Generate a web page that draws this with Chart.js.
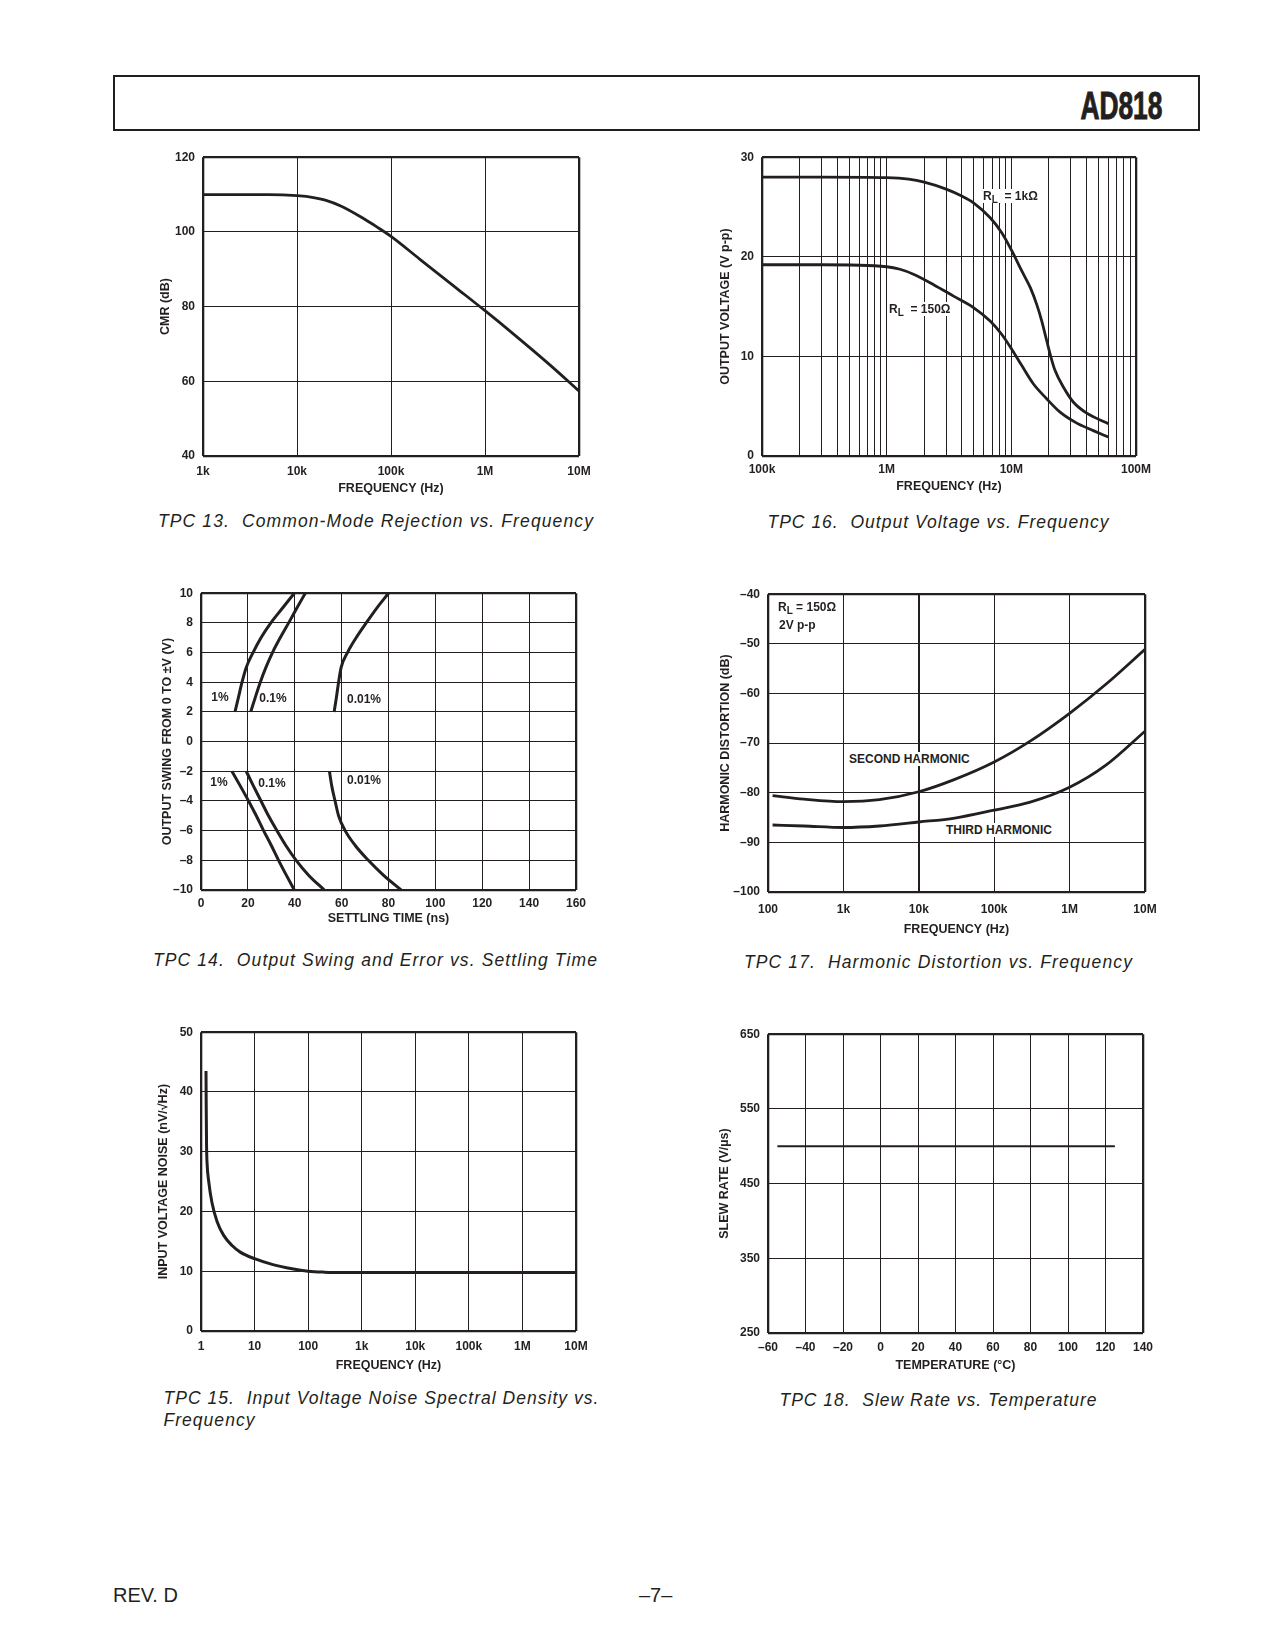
<!DOCTYPE html>
<html>
<head>
<meta charset="utf-8">
<title>AD818 typical performance characteristics</title>
<script src="https://cdn.jsdelivr.net/npm/chart.js@4.4.1/dist/chart.umd.min.js"></script>
<style>
  body { margin: 0; background: #fff; }
  #page { position: relative; width: 1275px; height: 1650px; overflow: hidden; color: #231f20;
          font-family: 'Liberation Sans', Arial, sans-serif; }
  canvas { position: absolute; }
  #head { position: absolute; left: 113px; top: 75px; width: 1087px; height: 56px;
          border: 2px solid #231f20; box-sizing: border-box; }
  #part { position: absolute; right: 113px; top: 84px; line-height: 40px; white-space: nowrap;
          font: bold 39px 'Liberation Sans Narrow', 'Liberation Sans', sans-serif; transform-origin: right center;
          -webkit-text-stroke: 1px #231f20; }
  .cap { position: absolute; white-space: pre; font-style: italic; font-size: 17.5px; line-height: 20px; }
  .note { position: absolute; white-space: nowrap; font-weight: bold; font-size: 12px; line-height: 14px;
          transform: translateY(-50%); }
  .note.bg { background: #fff; padding: 0 2px; margin-left: -2px; }
  .note.mid { transform: translate(-50%, -50%); }
  .note sub { font-size: 10px; line-height: 0; vertical-align: -3px; }
  .foot { position: absolute; font-size: 20px; line-height: 22px; white-space: pre; }
</style>
</head>
<body>
<div id="page">
  <div id="head"></div>
  <div id="part">AD818</div>

  <canvas id="c13"></canvas>
  <canvas id="c16"></canvas>
  <canvas id="c14"></canvas>
  <canvas id="c17"></canvas>
  <canvas id="c15"></canvas>
  <canvas id="c18"></canvas>

  <div class="note bg" style="left:983px; top:196px">R<sub>L</sub>&nbsp; = 1kΩ</div>
  <div class="note bg" style="left:889px; top:309px">R<sub>L</sub>&nbsp; = 150Ω</div>

  <div class="note mid" style="left:220px; top:697px">1%</div>
  <div class="note mid" style="left:273px; top:698px">0.1%</div>
  <div class="note mid" style="left:364px; top:699px">0.01%</div>
  <div class="note mid" style="left:219px; top:782px">1%</div>
  <div class="note mid" style="left:272px; top:783px">0.1%</div>
  <div class="note mid" style="left:364px; top:780px">0.01%</div>

  <div class="note" style="left:778px; top:607px">R<sub>L</sub> = 150Ω</div>
  <div class="note" style="left:779px; top:625px">2V p-p</div>
  <div class="note bg" style="left:849px; top:759px">SECOND HARMONIC</div>
  <div class="note bg" style="left:946px; top:830px">THIRD HARMONIC</div>

  <div class="cap" id="cap13">TPC 13.  Common-Mode Rejection vs. Frequency</div>
  <div class="cap" id="cap16">TPC 16.  Output Voltage vs. Frequency</div>
  <div class="cap" id="cap14">TPC 14.  Output Swing and Error vs. Settling Time</div>
  <div class="cap" id="cap17">TPC 17.  Harmonic Distortion vs. Frequency</div>
  <div class="cap" id="cap15a">TPC 15.  Input Voltage Noise Spectral Density vs.</div>
  <div class="cap" id="cap15b">Frequency</div>
  <div class="cap" id="cap18">TPC 18.  Slew Rate vs. Temperature</div>

  <div class="foot" style="left:113px; top:1584px">REV. D</div>
  <div class="foot" style="left:639px; top:1584px">–7–</div>
</div>

<script>
const ink = '#231f20';

// TPC 13 - common-mode rejection
const cmrFreq = [1e3, 2e3, 5e3, 1e4, 1.5e4, 2e4, 3e4, 5e4, 7e4, 1e5, 2e5, 5e5, 1e6, 2e6, 5e6, 1e7];
const cmrDb = [110, 110, 110, 109.7, 109.2, 108.5, 106.8, 103.7, 101.4, 98.8, 92.8, 84.9, 78.9, 72.7, 64.2, 57.4];
const cmrXTicks = [1e3, 1e4, 1e5, 1e6, 1e7];
const cmrXLabels = ['1k', '10k', '100k', '1M', '10M'];
const cmrYTicks = [40, 60, 80, 100, 120];
const cmrYLabels = ['40', '60', '80', '100', '120'];

// TPC 16 - output voltage
const ovFreq1k = [1e5, 3e5, 1e6, 1.5e6, 2e6, 3e6, 4e6, 5e6, 6.8e6, 8.4e6, 1.01e7, 1.21e7, 1.42e7, 1.6e7,
                  1.75e7, 1.92e7, 2.05e7, 2.24e7, 2.62e7, 3.15e7, 4.03e7, 6e7];
const ov1k = [28, 28, 27.95, 27.8, 27.5, 26.8, 26.1, 25.4, 23.9, 22.4, 20.6, 18.6, 16.9, 15.2,
              13.6, 11.6, 10.2, 8.6, 6.9, 5.4, 4.3, 3.25];
const ovFreq150 = [1e5, 3e5, 1e6, 1.28e6, 1.64e6, 2.38e6, 3.44e6, 4.97e6, 6.76e6, 8.39e6, 1.01e7, 1.21e7,
                   1.5e7, 1.92e7, 2.46e7, 3.35e7, 4.55e7, 6e7];
const ov150 = [19.2, 19.2, 19.0, 18.75, 18.25, 17.2, 16.05, 14.9, 13.55, 12.2, 10.7, 9.1,
               7.25, 5.75, 4.4, 3.3, 2.55, 1.9];
const ovXTicks = [1e5, 2e5, 3e5, 4e5, 5e5, 6e5, 7e5, 8e5, 9e5,
                  1e6, 2e6, 3e6, 4e6, 5e6, 6e6, 7e6, 8e6, 9e6,
                  1e7, 2e7, 3e7, 4e7, 5e7, 6e7, 7e7, 8e7, 9e7, 1e8];
const ovXDecades = [1e5, 1e6, 1e7, 1e8];
const ovXLabels = ['100k', '1M', '10M', '100M'];
const ovYTicks = [0, 10, 20, 30];
const ovYLabels = ['0', '10', '20', '30'];

// TPC 14 - settling time at each output swing level
const swingUpV = [2, 3, 4, 5, 6, 7, 8, 9, 10];
const settleUp1 = [14.5, 16, 17.5, 19.3, 22.2, 25.6, 29.8, 34.8, 39.8];
const settleUp01 = [21.2, 23.2, 25.3, 27.7, 30.5, 33.8, 37.4, 40.9, 44.5];
const settleUp001 = [56.8, 57.8, 58.7, 59.8, 62.5, 66.2, 70.5, 75, 80];
const swingDnV = [-2, -3, -4, -5, -6, -7, -8, -9, -10];
const settleDn1 = [13.2, 16.8, 20.3, 23.6, 26.7, 30, 33.1, 36.4, 39.8];
const settleDn01 = [19.3, 22.4, 25.6, 28.8, 32.4, 36.2, 40.6, 45.9, 52.6];
const settleDn001 = [54.8, 55.8, 57.2, 58.7, 61.5, 65.8, 71.4, 77.8, 85.4];
const stXTicks = [0, 20, 40, 60, 80, 100, 120, 140, 160];
const stXLabels = ['0', '20', '40', '60', '80', '100', '120', '140', '160'];
const stYTicks = [-10, -8, -6, -4, -2, 0, 2, 4, 6, 8, 10];
const stYLabels = ['–10', '–8', '–6', '–4', '–2', '0', '2', '4', '6', '8', '10'];

// TPC 17 - harmonic distortion
const hdFreq = [115, 300, 1e3, 3e3, 1e4, 3e4, 1e5, 3e5, 1e6, 3e6, 1e7];
const hdSecond = [-80.6, -81.3, -81.8, -81.4, -79.8, -77.3, -73.8, -69.6, -64.0, -58.2, -51.1];
const hdThird = [-86.5, -86.7, -87.0, -86.7, -85.9, -85.1, -83.5, -81.9, -78.9, -74.5, -67.6];
const hdXTicks = [1e2, 1e3, 1e4, 1e5, 1e6, 1e7];
const hdXLabels = ['100', '1k', '10k', '100k', '1M', '10M'];
const hdYTicks = [-100, -90, -80, -70, -60, -50, -40];
const hdYLabels = ['–100', '–90', '–80', '–70', '–60', '–50', '–40'];

// TPC 15 - input voltage noise
const noiseFreq = [1.24, 1.25, 1.27, 1.3, 1.39, 1.6, 2, 2.65, 3.8, 5.4, 10, 22, 50, 100, 200, 500, 1e7];
const noiseNv = [43.5, 38, 31, 28, 25.1, 21.5, 18.3, 16, 14.3, 13.2, 12.1, 11.1, 10.4, 10.0, 9.85, 9.8, 9.8];
const nzXTicks = [1, 10, 1e2, 1e3, 1e4, 1e5, 1e6, 1e7];
const nzXLabels = ['1', '10', '100', '1k', '10k', '100k', '1M', '10M'];
const nzYTicks = [0, 10, 20, 30, 40, 50];
const nzYLabels = ['0', '10', '20', '30', '40', '50'];

// TPC 18 - slew rate
const slewTemp = [-55, 0, 25, 85, 125];
const slewRate = [500, 500, 500, 500, 500];
const srXTicks = [-60, -40, -20, 0, 20, 40, 60, 80, 100, 120, 140];
const srXLabels = ['–60', '–40', '–20', '0', '20', '40', '60', '80', '100', '120', '140'];
const srYTicks = [250, 350, 450, 550, 650];
const srYLabels = ['250', '350', '450', '550', '650'];

const tickFont = { family: "'Liberation Sans', Arial, sans-serif", size: 12, weight: 'bold', lineHeight: 1.2 };
const titleFont = { family: "'Liberation Sans', Arial, sans-serif", size: 12.5, weight: 'bold', lineHeight: 1.2 };

function axis(type, ticks, label, title, pad, heavy) {
    const min = ticks[0], max = ticks[ticks.length - 1];
    return {
        type: type, min: min, max: max,
        afterBuildTicks: s => { s.ticks = ticks.map(v => ({ value: v })); },
        ticks: { autoSkip: false, maxRotation: 0, minRotation: 0, padding: pad, font: tickFont, color: ink,
                 callback: v => label(v) },
        grid: { color: ink, drawTicks: false,
                lineWidth: c => {
                    const v = c.tick ? c.tick.value : null;
                    if (v === min || v === max) return 2.3;
                    if (heavy && heavy.includes(v)) return 2;
                    return 1;
                } },
        border: { display: false },
        title: { display: true, text: title, font: titleFont, color: ink, padding: 0 }
    };
}

function byIndex(ticks, labels) {
    return v => labels[ticks.indexOf(v)];
}

function curve(xs, ys, width) {
    return {
        data: xs.map((v, i) => ({ x: v, y: ys[i] })),
        showLine: true, borderColor: ink, borderWidth: width || 2.8, pointRadius: 0,
        cubicInterpolationMode: 'monotone', fill: false
    };
}

function build(id, area, yTitleX, xTitleDy, x, y, datasets) {
    const lh = titleFont.size * titleFont.lineHeight;
    const left = Math.round(yTitleX - lh / 2);
    const top = area.t - 14;
    const W = Math.round(area.r - left + 30);
    const xh = xTitleDy + lh / 2;
    const H = Math.round(area.b + xh - top);
    const cv = document.getElementById(id);
    cv.width = W;
    cv.height = H;
    cv.style.left = left + 'px';
    cv.style.top = top + 'px';
    x.afterFit = s => { s.height = xh; };
    y.afterFit = s => { s.width = area.l - left; };
    return new Chart(cv, {
        type: 'scatter',
        data: { datasets: datasets },
        options: {
            responsive: false,
            animation: false,
            events: [],
            layout: { padding: { top: 14, left: 0, right: W - (area.r - left), bottom: H - (area.b - top) - xh } },
            plugins: { legend: { display: false }, tooltip: { enabled: false } },
            scales: { x: x, y: y }
        }
    });
}

// TPC 13
build('c13', { l: 203, r: 579, t: 156, b: 456 }, 165, 32.6,
    axis('logarithmic', cmrXTicks, byIndex(cmrXTicks, cmrXLabels), 'FREQUENCY (Hz)', 8),
    axis('linear', cmrYTicks, byIndex(cmrYTicks, cmrYLabels), 'CMR (dB)', 8),
    [curve(cmrFreq, cmrDb)]);

// TPC 16
build('c16', { l: 762, r: 1136, t: 156, b: 456 }, 725, 31,
    axis('logarithmic', ovXTicks, v => {
        const i = ovXDecades.indexOf(v);
        return i < 0 ? '' : ovXLabels[i];
    }, 'FREQUENCY (Hz)', 6),
    axis('linear', ovYTicks, byIndex(ovYTicks, ovYLabels), 'OUTPUT VOLTAGE (V p-p)', 8),
    [curve(ovFreq1k, ov1k), curve(ovFreq150, ov150)]);

// TPC 14
build('c14', { l: 201, r: 576, t: 592, b: 890 }, 167, 28.3,
    axis('linear', stXTicks, byIndex(stXTicks, stXLabels), 'SETTLING TIME (ns)', 6),
    axis('linear', stYTicks, byIndex(stYTicks, stYLabels), 'OUTPUT SWING FROM 0 TO ±V (V)', 8),
    [curve(settleUp1, swingUpV, 3), curve(settleUp01, swingUpV, 3), curve(settleUp001, swingUpV, 3),
     curve(settleDn1, swingDnV, 3), curve(settleDn01, swingDnV, 3), curve(settleDn001, swingDnV, 3)]);

// TPC 17
build('c17', { l: 768, r: 1145, t: 593, b: 892 }, 725, 37.7,
    axis('logarithmic', hdXTicks, byIndex(hdXTicks, hdXLabels), 'FREQUENCY (Hz)', 10, [1e4]),
    axis('linear', hdYTicks, byIndex(hdYTicks, hdYLabels), 'HARMONIC DISTORTION (dB)', 8),
    [curve(hdFreq, hdSecond), curve(hdFreq, hdThird)]);

// TPC 15
build('c15', { l: 201, r: 576, t: 1031, b: 1331 }, 163, 34.3,
    axis('logarithmic', nzXTicks, byIndex(nzXTicks, nzXLabels), 'FREQUENCY (Hz)', 8.7),
    axis('linear', nzYTicks, byIndex(nzYTicks, nzYLabels), 'INPUT VOLTAGE NOISE (nV/√Hz)', 8),
    [curve(noiseFreq, noiseNv, 3)]);

// TPC 18
build('c18', { l: 768, r: 1143, t: 1033, b: 1333 }, 724, 32.4,
    axis('linear', srXTicks, byIndex(srXTicks, srXLabels), 'TEMPERATURE (°C)', 7.7),
    axis('linear', srYTicks, byIndex(srYTicks, srYLabels), 'SLEW RATE (V/µs)', 8),
    [curve(slewTemp, slewRate, 2)]);

// captions: left edge, centre line, width measured off the page
function caption(id, left, cy, width, spacingFrom) {
    const el = document.getElementById(id);
    el.style.left = left + 'px';
    el.style.top = (cy - 10) + 'px';
    if (spacingFrom) {
        el.style.letterSpacing = document.getElementById(spacingFrom).style.letterSpacing;
        return;
    }
    const w0 = el.getBoundingClientRect().width;
    el.style.letterSpacing = ((width - w0) / el.textContent.length) + 'px';
}
caption('cap13', 158, 520.5, 436);
caption('cap16', 767.5, 522, 342);
caption('cap14', 153, 959.5, 445);
caption('cap17', 744, 962, 389);
caption('cap15a', 163.5, 1397.5, 436);
caption('cap15b', 163.5, 1420, 0, 'cap15a');
caption('cap18', 779.5, 1400, 318);

const part = document.getElementById('part');
part.style.transform = 'scaleX(' + (82 / part.getBoundingClientRect().width) + ')';
</script>
</body>
</html>
